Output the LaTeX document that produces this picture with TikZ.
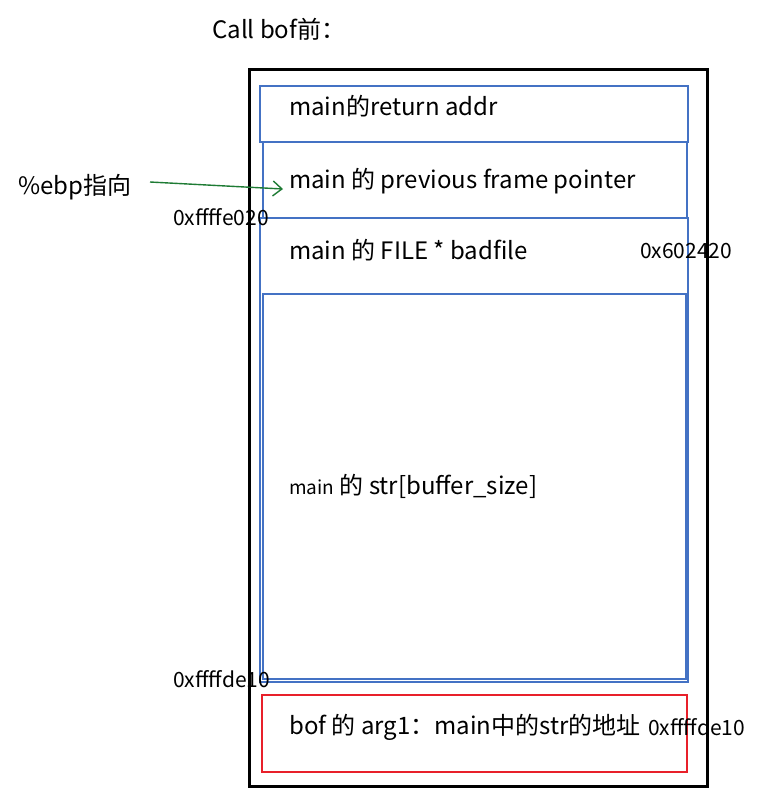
\documentclass[tikz,border=0pt]{standalone}
\usepackage{fontspec}
\setmainfont{Noto Sans CJK SC}
\usetikzlibrary{arrows.meta}
\definecolor{boxblue}{HTML}{4472C4}
\definecolor{boxred}{HTML}{E8202A}
\definecolor{arrgreen}{HTML}{1E7B34}
\begin{document}
\begin{tikzpicture}[x=1pt,y=-1pt,
  lbl/.style={anchor=base west,inner sep=0pt,font=\fontsize{24}{28}\selectfont},
  addr/.style={anchor=base west,inner sep=0pt,font=\fontsize{21}{25}\selectfont},
  bluebox/.style={draw=boxblue,line width=1.5pt},
  ]
\useasboundingbox (0,0) rectangle (767,809);
\fill[white] (0,0) rectangle (767,809);
% outer frame
\draw[line width=3pt] (249,69) rectangle (707,786);
% blue boxes
\draw[bluebox] (260,86) rectangle (688,142);
\draw[bluebox] (263,142) rectangle (687,218);
\draw[bluebox] (260,218) rectangle (688,682);
\draw[bluebox] (263,294) rectangle (686,679);
% red box
\draw[draw=boxred,line width=1.5pt] (262,695) rectangle (687,772);
% texts
\node[lbl] (title) at (212,38) {Call bof前：};
\node[lbl] (ebp) at (18,194) {\%ebp指向};
\node[lbl] (ret) at (289,115) {main的return addr};
\node[lbl] (pfp) at (289,188) {main 的 previous frame pointer};
\node[lbl] (file) at (289,259) {main 的 FILE * badfile};
\node[lbl] (str) at (289,494) {{\fontsize{19}{22}\selectfont main} 的 str[buffer\_size]};
\node[lbl] (arg) at (289,734) {bof 的 arg1：main中的str的地址};
\node[addr] (a1) at (173,225) {0xffffe020};
\node[addr] (a2) at (640,258) {0x602420};
\node[addr] (a3) at (173,687) {0xffffde10};
\node[addr] (a4) at (648,735) {0xffffde10};
\coordinate (arrs) at (150,182);
\coordinate (arre) at (283,189);
\draw[arrgreen,line width=1.4pt,-{Straight Barb[length=9pt,width=15pt]}] (arrs) -- (arre);
\end{tikzpicture}
\end{document}
